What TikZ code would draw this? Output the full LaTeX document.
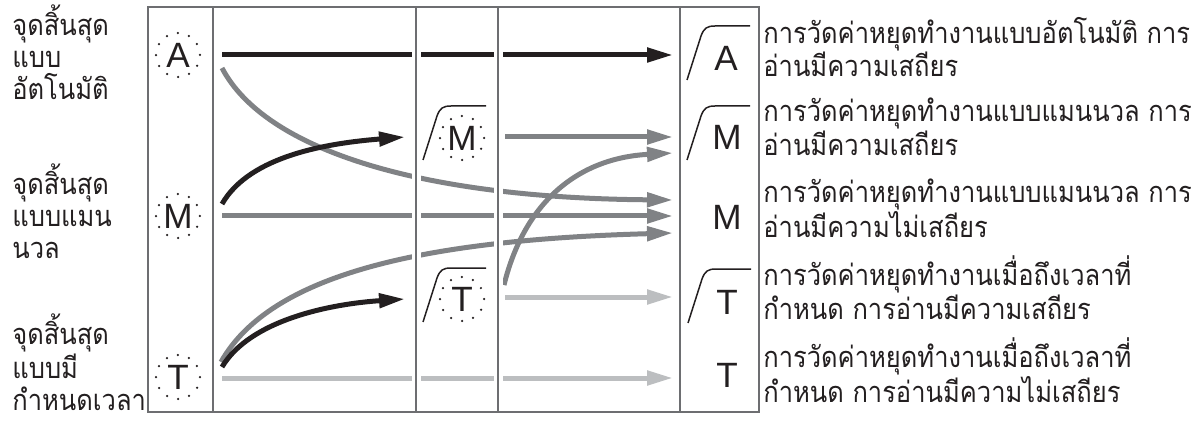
\documentclass[tikz,border=0pt]{standalone}
\usepackage{fontspec}
\setmainfont{Liberation Sans}
\newfontfamily\thaifont[Script=Thai, FakeStretch=0.88]{Loma}
\usetikzlibrary{arrows.meta}

\definecolor{inkblack}{HTML}{231F20}
\definecolor{midgray}{HTML}{808285}
\definecolor{lightgray}{HTML}{BCBEC0}
\definecolor{framegray}{HTML}{6D6E71}

\tikzset{
  flow/.style={line width=0.1cm, -{Triangle[length=0.52cm,width=0.28cm]}},
  endpt/.style={circle, minimum size=0.88cm, inner sep=0pt, draw=inkblack,
    line width=0.05cm, line cap=round, dash pattern=on 0pt off 6.555pt,
    text=inkblack, font=\fontsize{20}{22}\selectfont},
  result/.style={inner sep=0pt, text=inkblack, font=\fontsize{20}{22}\selectfont},
  thaitext/.style={anchor=west, align=left, inner sep=0pt, text=inkblack,
    font=\thaifont\fontsize{16.5}{18.2}\selectfont},
  gapband/.style={white, line width=0.18cm},
  ramp/.pic={\draw[inkblack, line width=0.03cm] (0,0) -- (14,-44)
    .. controls (17,-52) and (20,-54) .. (28,-54) -- (63,-54);}
}

\begin{document}
\begin{tikzpicture}[x=0.02cm, y=-0.02cm]
\useasboundingbox (0,0) rectangle (1193,422);

% end points on the left
\node[endpt] (sA) at (178,55) {A};
\node[endpt] (sM) at (178,216) {M};
\node[endpt] (sT) at (178,377) {T};

% end points in the middle column
\node[endpt] (mM) at (462,138) {M};
\node[endpt] (mT) at (462,299) {T};
\pic at (423,160) {ramp};
\pic at (423,322) {ramp};

% results on the right
\node[result] (rA) at (726,58) {A};
\node[result] (rMs) at (727,137) {M};
\node[result] (rMu) at (727,217) {M};
\node[result] (rTs) at (727,302) {T};
\node[result] (rTu) at (727,375) {T};
\pic at (687,80) {ramp};
\pic at (687,160) {ramp};
\pic at (688,323) {ramp};

% labels
\node[thaitext] (lA) at (12,52) {จุดสิ้นสุด\\แบบ\\อัตโนมัติ};
\node[thaitext] (lM) at (12,211) {จุดสิ้นสุด\\แบบแมน\\นวล};
\node[thaitext] (lT) at (12,362) {จุดสิ้นสุด\\แบบมี\\กำหนดเวลา};
\node[thaitext] (tA) at (763,47) {การวัดค่าหยุดทำงานแบบอัตโนมัติ การ\\อ่านมีความเสถียร};
\node[thaitext] (tMs) at (763,127) {การวัดค่าหยุดทำงานแบบแมนนวล การ\\อ่านมีความเสถียร};
\node[thaitext] (tMu) at (763,208) {การวัดค่าหยุดทำงานแบบแมนนวล การ\\อ่านมีความไม่เสถียร};
\node[thaitext] (tTs) at (763,288) {การวัดค่าหยุดทำงานเมื่อถึงเวลาที่\\กำหนด การอ่านมีความเสถียร};
\node[thaitext] (tTu) at (763,370) {การวัดค่าหยุดทำงานเมื่อถึงเวลาที่\\กำหนด การอ่านมีความไม่เสถียร};

% arrow ends
\coordinate (aOut) at (222,55);
\coordinate (aDown) at (222,68);
\coordinate (mOut) at (222,216);
\coordinate (mUp) at (222,204);
\coordinate (tOut) at (222,378);
\coordinate (tUp) at (221,362);
\coordinate (tUp2) at (222,367);
\coordinate (mMOut) at (505,137);
\coordinate (mTOut) at (505,297);
\coordinate (mTUp) at (504,285);
\coordinate (inA) at (673,55);
\coordinate (inMs) at (673,137);
\coordinate (inMs2) at (673,153);
\coordinate (inMu1) at (673,200);
\coordinate (inMu) at (673,216);
\coordinate (inMu2) at (673,233);
\coordinate (inTs) at (673,297);
\coordinate (inTu) at (673,378);
\coordinate (inmM) at (405,137);
\coordinate (inmT) at (405,299);

\draw[flow, inkblack] (aOut) -- (inA);
\draw[flow, midgray] (aDown) .. controls (265,150) and (420,198) .. (inMu1);
\draw[flow, midgray] (mOut) -- (inMu);
\draw[flow, midgray] (tUp) .. controls (270,275) and (420,240) .. (inMu2);
\draw[flow, lightgray] (tOut) -- (inTu);
\draw[flow, midgray] (mMOut) -- (inMs);
\draw[flow, lightgray] (mTOut) -- (inTs);
\draw[flow, midgray] (mTUp) .. controls (525,200) and (580,158) .. (inMs2);
\draw[flow, inkblack] (mUp) .. controls (250,155) and (330,143) .. (inmM);
\draw[flow, inkblack] (tUp2) .. controls (250,320) and (330,304) .. (inmT);

% gaps where lines cross the column rules
\draw[gapband] (416,8) -- (416,411);
\draw[gapband] (498,8) -- (498,411);

% frame and columns
\draw[framegray, line width=0.03cm] (148,7) rectangle (759,412);
\draw[framegray, line width=0.03cm] (213,7) -- (213,412);
\draw[framegray, line width=0.03cm] (416,7) -- (416,412);
\draw[framegray, line width=0.03cm] (498,7) -- (498,412);
\draw[framegray, line width=0.03cm] (680,7) -- (680,412);
\end{tikzpicture}
\end{document}
